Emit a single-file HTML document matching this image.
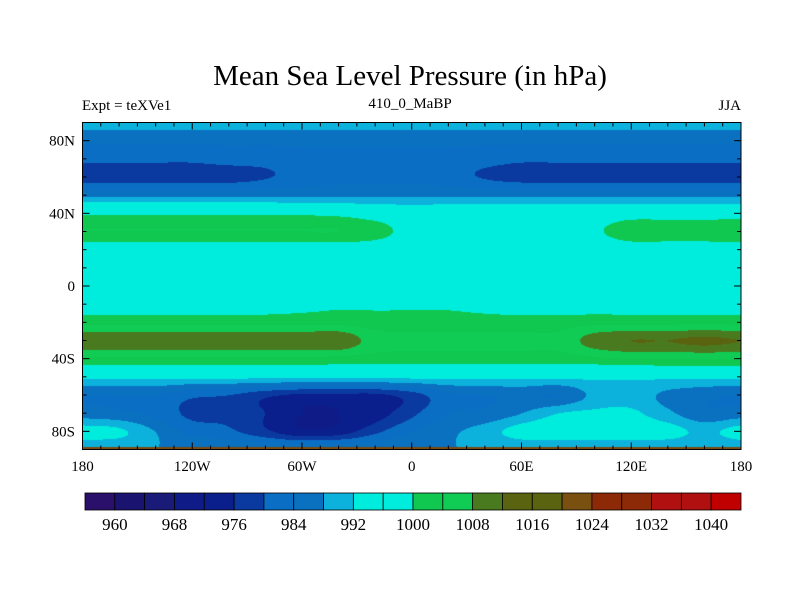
<!DOCTYPE html>
<html><head><meta charset="utf-8"><style>
body{margin:0;background:#fff;width:800px;height:600px;overflow:hidden;position:relative;font-family:"Liberation Serif",serif}
.t{position:absolute;white-space:nowrap;color:#000}
</style></head><body>
<div class="t" style="left:0;width:820px;text-align:center;top:60px;font-size:29px">Mean Sea Level Pressure (in hPa)</div>
<div class="t" style="left:82px;top:98px;font-size:15px">Expt = teXVe1</div>
<div class="t" style="left:310px;width:200px;text-align:center;top:96px;font-size:15px">410_0_MaBP</div>
<div class="t" style="right:59px;top:98px;font-size:15px">JJA</div>
<canvas id="map" width="659" height="328" style="position:absolute;left:82px;top:122px"></canvas>
<svg id="ov" width="800" height="600" style="position:absolute;left:0;top:0"></svg>
<script>
const lons=[-180,-160,-140,-120,-100,-80,-60,-40,-20,0,20,40,60,80,100,120,140,160,180];
const lats=[90,80,70,60,50,40,30,20,10,0,-10,-20,-30,-40,-50,-60,-70,-80,-90];
const row90=[990,990,990,990,990,990,990,990,990,990,990,990,990,990,990,990,990,990,990];
const row80=[985,985,985,985,985,985,985,985,985,985,985,985,985,985,985,985,985,985,985];
const row70=[981,981,981,981,982,982,983,983,983,983,983,982,981,981,981,981,981,981,981];
const row60=[978,978,978,978,978,979.5,982,983,983,983,982,979.5,978,978,978,978,978,978,978];
const row50=[987,987,987,987,987,987,987,987,987,987,987,987,987,987,987,987,987,987,987];
const row40=[999,999,999,999,999,999,999,998.5,997,996,996,996,996,996,996,997,997,997,997];
const row30=[1004,1004,1004,1004,1004,1004,1004,1004,1002,998,996,996,996,996,999,1003,1003,1003,1004];
const row20=[997,997,997,997,997,997,997,997,997,996,996,996,996,996,996,997,997,997,997];
const row10=[996,996,996,996,996,996,996,996,996,996,996,996,996,996,996,996,996,996,996];
const row0=[996,996,996,996,996,996,996,996,996,996,996,996,996,996,996,996,996,996,996];
const rowS10=[997,997,997,997,997,997,998,999,999,999,999,998,997,997,997,997,997,997,997];
const rowS20=[1003,1003,1003,1003,1003,1003,1003,1003,1002,1002,1002,1002,1002,1002,1003,1003,1003,1003,1003];
const rowS30=[1011,1011,1011,1011,1011,1011,1011,1011.5,1006,1005,1005,1005,1005,1005,1010,1012,1012,1013,1012];
const rowS40=[1003,1003,1003,1003,1003,1003,1003,1002.5,1002,1002,1002,1002,1002,1002,1003,1004,1004,1004,1004];
const rowS50=[993,993,993,993,993,993,993,993,993,993,993,993,993,993,993,993,993,993,993];
const rowS60=[984,984,984,981,980,977,975,975,975,978,983,984,985,984,989,990,987,985,984];
const rowS70=[986,985,983,979,979,976,972,972,974,979,984,985,988,992,993,993,989,985,986];
const rowS80=[994,993,988,983,981,977,973,974,979,984,987,990,994,995,995,995,994,991,994];
const rowS90=[988,988,988,988,988,988,988,988,988,988,988,988,988,988,988,988,988,988,988];
const grid=[row90,row80,row70,row60,row50,row40,row30,row20,row10,row0,rowS10,rowS20,rowS30,rowS40,rowS50,rowS60,rowS70,rowS80,rowS90];
const levelLabels=[960,968,976,984,992,1000,1008,1016,1024,1032,1040];
const colors=["#2a0f6b","#1a1470","#1a1a78","#0f1c88","#0a1e8c","#0a3aa0","#0a6ec4","#0a70c0","#0cb2dc","#00ecdc","#00ecdc","#10c850","#10cc54","#4a7a20","#5a6410","#5a6410","#7a5010","#8c2a08","#8c2a08","#b01010","#b01010","#c00000"];
function colorIdx(v){if(v<960)return 0;const k=Math.floor((v-960)/4)+1;return Math.min(21,k);}
const X0=82.5,X1=741,Y0=122.5,Y1=449.5;
const xS=lon=>X0+(lon+180)/360*(X1-X0);
const yS=lat=>Y0+(90-lat)/180*(Y1-Y0);
function cr(p0,p1,p2,p3,t){return 0.5*((2*p1)+(-p0+p2)*t+(2*p0-5*p1+4*p2-p3)*t*t+(-p0+3*p1-3*p2+p3)*t*t*t);}
function g(i,j){i=Math.max(0,Math.min(lats.length-1,i));j=Math.max(0,Math.min(lons.length-1,j));return grid[i][j];}
function val(lon,lat){
 const fj=(lon-lons[0])/(lons[1]-lons[0]),fi=(lats[0]-lat)/(lats[0]-lats[1]);
 const j=Math.min(lons.length-2,Math.floor(fj)),i=Math.min(lats.length-2,Math.floor(fi));
 const tj=fj-j,ti=fi-i;const r=[];
 for(let a=-1;a<=2;a++)r.push(cr(g(i+a,j-1),g(i+a,j),g(i+a,j+1),g(i+a,j+2),tj));
 return cr(r[0],r[1],r[2],r[3],ti);}
const cv=document.getElementById('map'),ctx=cv.getContext('2d');
const W=cv.width,H=cv.height,img=ctx.createImageData(W,H);
const rgb=colors.map(c=>[parseInt(c.slice(1,3),16),parseInt(c.slice(3,5),16),parseInt(c.slice(5,7),16)]);
for(let py=0;py<H;py++){const lat=90-(py+0.5)/H*180;
 for(let px=0;px<W;px++){const lon=-180+(px+0.5)/W*360;
  const c=rgb[colorIdx(val(lon,lat))];const k=(py*W+px)*4;
  img.data[k]=c[0];img.data[k+1]=c[1];img.data[k+2]=c[2];img.data[k+3]=255;}}
ctx.putImageData(img,0,0);
ctx.fillStyle="#7a4a10";ctx.fillRect(0,H-3,W,3);
const NS="http://www.w3.org/2000/svg",sv=document.getElementById('ov');
function el(t,a,txt){const e=document.createElementNS(NS,t);for(const k in a)e.setAttribute(k,a[k]);if(txt!==undefined)e.textContent=txt;sv.appendChild(e);return e;}
let e=el('rect',{x:X0,y:Y0,width:X1-X0,height:Y1-Y0,fill:'none',stroke:'#000','stroke-width':1});


for(let lon=-180;lon<=180;lon+=10){const L=lon%60===0?7:4;
 el('line',{x1:xS(lon),x2:xS(lon),y1:Y1,y2:Y1-L,stroke:'#000'});
 el('line',{x1:xS(lon),x2:xS(lon),y1:Y0,y2:Y0+L,stroke:'#000'});}
for(let lat=-90;lat<=90;lat+=10){const L=lat%40===0?7:4;
 el('line',{x1:X0,x2:X0+L,y1:yS(lat),y2:yS(lat),stroke:'#000'});
 el('line',{x1:X1,x2:X1-L,y1:yS(lat),y2:yS(lat),stroke:'#000'});}
const xTicks=[-180,-120,-60,0,60,120,180],xLabels=["180","120W","60W","0","60E","120E","180"];
xTicks.forEach((v,i)=>{const t=el('text',{x:xS(v),y:471,'text-anchor':'middle','font-size':15,'font-family':'Liberation Serif, serif'},xLabels[i]);
 
 });
const yTicks=[80,40,0,-40,-80],yLabels=["80N","40N","0","40S","80S"];
yTicks.forEach((v,i)=>{const t=el('text',{x:75,y:yS(v)+5,'text-anchor':'end','font-size':15,'font-family':'Liberation Serif, serif'},yLabels[i]);
 
 });
const CB0=85,CB1=741,bw=(CB1-CB0)/colors.length;
colors.forEach((c,i)=>{const r=el('rect',{x:CB0+i*bw,y:493,width:bw,height:17,fill:c,stroke:'#000','stroke-width':0.8});
 
 });
levelLabels.forEach((v,i)=>{const t=el('text',{x:CB0+(1+2*i)*bw,y:530,'text-anchor':'middle','font-size':17,'font-family':'Liberation Serif, serif'},String(v));
 
 });
</script>
</body></html>
